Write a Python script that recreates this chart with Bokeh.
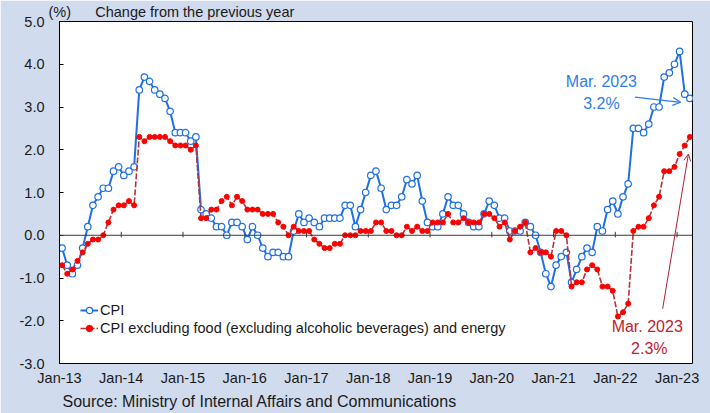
from bokeh.plotting import figure
from bokeh.models import (Range1d, FixedTicker, Label, Arrow, OpenHead, Span,
                          Legend, LegendItem, ColumnDataSource, Title)
from bokeh.embed import file_html
from bokeh.resources import INLINE

# ---- data (monthly, Jan-2013 .. Mar-2023), % change from previous year ----
cpi = [
    -0.3, -0.7, -0.9, -0.7, -0.3, 0.2, 0.7, 0.9, 1.1, 1.1, 1.5, 1.6,      # 2013
    1.4, 1.5, 1.6, 3.4, 3.7, 3.6, 3.4, 3.3, 3.2, 2.9, 2.4, 2.4,           # 2014
    2.4, 2.2, 2.3, 0.6, 0.5, 0.4, 0.2, 0.2, 0.0, 0.3, 0.3, 0.2,           # 2015
    -0.1, 0.2, 0.0, -0.3, -0.5, -0.4, -0.4, -0.5, -0.5, 0.1, 0.5, 0.3,    # 2016
    0.4, 0.3, 0.2, 0.4, 0.4, 0.4, 0.4, 0.7, 0.7, 0.2, 0.6, 1.0,           # 2017
    1.4, 1.5, 1.1, 0.6, 0.7, 0.7, 0.9, 1.3, 1.2, 1.4, 0.8, 0.3,           # 2018
    0.2, 0.2, 0.5, 0.9, 0.7, 0.7, 0.5, 0.3, 0.2, 0.2, 0.5, 0.8,           # 2019
    0.7, 0.4, 0.4, 0.1, 0.1, 0.1, 0.3, 0.2, 0.0, -0.4, -0.9, -1.2,        # 2020
    -0.7, -0.5, -0.4, -1.1, -0.8, -0.5, -0.3, -0.4, 0.2, 0.1, 0.6, 0.8,   # 2021
    0.5, 0.9, 1.2, 2.5, 2.5, 2.4, 2.6, 3.0, 3.0, 3.7, 3.8, 4.0,           # 2022
    4.3, 3.3, 3.2,                                                        # 2023
]
core = [
    -0.7, -0.9, -0.8, -0.6, -0.4, -0.2, -0.1, -0.1, 0.0, 0.3, 0.6, 0.7,   # 2013
    0.7, 0.8, 0.7, 2.3, 2.2, 2.3, 2.3, 2.3, 2.3, 2.2, 2.1, 2.1,           # 2014
    2.1, 2.0, 2.1, 0.4, 0.4, 0.6, 0.6, 0.8, 0.9, 0.7, 0.9, 0.8,           # 2015
    0.6, 0.6, 0.6, 0.5, 0.5, 0.5, 0.3, 0.2, 0.0, 0.2, 0.1, 0.1,           # 2016
    0.1, -0.1, -0.2, -0.3, -0.3, -0.2, -0.2, 0.0, 0.0, 0.0, 0.1, 0.1,     # 2017
    0.1, 0.3, 0.3, 0.1, 0.1, 0.0, 0.0, 0.2, 0.1, 0.2, 0.1, 0.1,           # 2018
    0.3, 0.3, 0.3, 0.5, 0.3, 0.3, 0.4, 0.3, 0.3, 0.3, 0.5, 0.5,           # 2019
    0.4, 0.2, 0.3, -0.1, 0.1, 0.2, 0.3, -0.4, -0.3, -0.4, -0.4, -0.5,     # 2020
    0.1, 0.1, 0.0, -1.2, -1.1, -1.1, -0.8, -0.7, -0.8, -1.2, -1.2, -1.3,  # 2021
    -1.9, -1.8, -1.6, 0.1, 0.2, 0.2, 0.4, 0.7, 0.9, 1.5, 1.5, 1.6,        # 2022
    1.9, 2.1, 2.3,                                                        # 2023
]
year_labels = ["Jan-13", "Jan-14", "Jan-15", "Jan-16", "Jan-17", "Jan-18",
               "Jan-19", "Jan-20", "Jan-21", "Jan-22", "Jan-23"]
y_ticks = [-3, -2, -1, 0, 1, 2, 3, 4, 5]

n = len(cpi)
month_x = [i + 0.5 for i in range(n)]          # category centres
year_ticks = [12 * i for i in range(len(year_labels))]
src = ColumnDataSource(dict(x=month_x, cpi=cpi, core=core))

FONT = "Liberation Sans"
BLUE = "#1E6FE8"
RED = "#FF0000"
REDLINE = "#B5343C"
TXT = "#1a1a1a"

p = figure(width=710, height=413, output_backend="svg", toolbar_location=None,
           x_range=Range1d(0, n), y_range=Range1d(-3, 5),
           min_border_left=59, min_border_right=18, min_border_top=20,
           min_border_bottom=50)
p.border_fill_color = "#D0DBEE"
p.background_fill_color = "white"
p.outline_line_color = "black"
p.outline_line_width = 1
p.xgrid.visible = False
p.ygrid.visible = False

# header (as a title above the frame) and source (as a title below)
p.title = Title(text="(%)" + "\u00a0" * 6 + "Change from the previous year",
                align="left", offset=-11, standoff=3, text_font=FONT,
                text_font_size="14.5px", text_font_style="normal",
                text_color=TXT)
p.add_layout(Title(text="Source: Ministry of Internal Affairs and Communications",
                   align="left", offset=3, standoff=5, text_font=FONT,
                   text_font_size="16px", text_font_style="normal",
                   text_color=TXT), "below")

# x axis: labels only, at the bottom
p.xaxis.ticker = FixedTicker(ticks=year_ticks)
p.xaxis.major_label_overrides = {t: l for t, l in zip(year_ticks, year_labels)}
p.xaxis.axis_line_color = None
p.xaxis.major_tick_line_color = None
p.xaxis.minor_tick_line_color = None
p.xaxis.major_label_standoff = 0
p.xaxis.major_label_text_font = FONT
p.xaxis.major_label_text_font_size = "14.5px"
p.xaxis.major_label_text_color = TXT

# y axis
p.yaxis.ticker = FixedTicker(ticks=y_ticks)
p.yaxis.major_label_overrides = {t: f"{t:.1f}" for t in y_ticks}
p.yaxis.axis_line_color = "black"
p.yaxis.major_tick_in = 4
p.yaxis.major_tick_out = 0
p.yaxis.major_tick_line_color = "black"
p.yaxis.minor_tick_line_color = None
p.yaxis.major_label_standoff = 15
p.yaxis.major_label_text_font = FONT
p.yaxis.major_label_text_font_size = "14.5px"
p.yaxis.major_label_text_color = TXT

# zero line with year ticks on it
p.add_layout(Span(location=0, dimension="width", line_color="#3a3a3a", line_width=1))
p.segment(x0=year_ticks, y0=[-0.05] * len(year_ticks), x1=year_ticks,
          y1=[0.08] * len(year_ticks), line_color="#3a3a3a", line_width=1)

# series
bl = p.line("x", "cpi", source=src, line_color=BLUE, line_width=2)
bs = p.scatter("x", "cpi", source=src, size=6.5, fill_color="white",
               line_color=BLUE, line_width=1.2)
rl = p.line("x", "core", source=src, line_color=REDLINE, line_width=1.6,
            line_dash="6 2")
rs = p.scatter("x", "core", source=src, size=5, fill_color=RED, line_color=RED)

legend = Legend(items=[LegendItem(label="CPI", renderers=[bl, bs]),
                       LegendItem(label="CPI excluding food (excluding alcoholic beverages) and energy",
                                  renderers=[rl, rs])],
                location=(21, 27), background_fill_alpha=0, border_line_color=None,
                label_text_font=FONT, label_text_font_size="14.5px",
                label_text_color=TXT, glyph_width=18, glyph_height=16,
                label_height=16, spacing=2, padding=0, margin=0, label_standoff=2)
p.add_layout(legend)

# annotations
BTXT = "#2F7DEB"
RTXT = "#C3222C"
p.add_layout(Label(x=105.3, y=3.60, text="Mar. 2023", text_font=FONT,
                   text_font_size="16px", text_color=BTXT, text_align="center",
                   text_baseline="middle"))
p.add_layout(Label(x=105.3, y=3.09, text="3.2%", text_font=FONT,
                   text_font_size="16px", text_color=BTXT, text_align="center",
                   text_baseline="middle"))
p.add_layout(Arrow(x_start=111.8, y_start=3.23, x_end=120.7, y_end=3.11,
                   line_color=BTXT, line_width=1.2,
                   end=OpenHead(size=8, line_color=BTXT, line_width=1.2)))

p.add_layout(Label(x=114.2, y=-2.14, text="Mar. 2023", text_font=FONT,
                   text_font_size="16px", text_color=RTXT, text_align="center",
                   text_baseline="middle"))
p.add_layout(Label(x=114.6, y=-2.66, text="2.3%", text_font=FONT,
                   text_font_size="16px", text_color=RTXT, text_align="center",
                   text_baseline="middle"))
p.add_layout(Arrow(x_start=117.2, y_start=-1.72, x_end=122.2, y_end=1.90,
                   line_color="#B22030", line_width=1,
                   end=OpenHead(size=7, line_color="#B22030", line_width=1)))

open("out.html", "w").write(file_html(p, INLINE))
